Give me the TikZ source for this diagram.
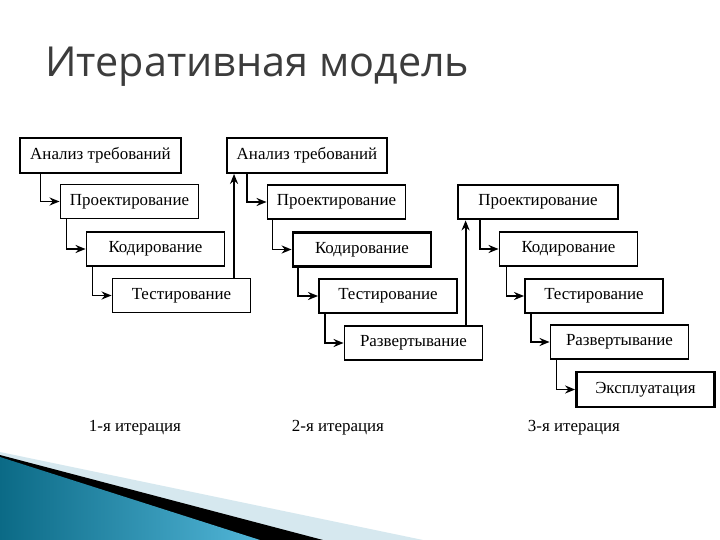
\documentclass[tikz,border=0pt]{standalone}
\usepackage{fontspec}
\setmainfont{Liberation Serif}
\newfontfamily\titlefont{Open Sans}
\usetikzlibrary{arrows.meta,calc}
\definecolor{titlegray}{HTML}{3C3C3C}
\definecolor{tealdark}{HTML}{0B6A86}
\definecolor{teallight}{HTML}{52B6D8}
\definecolor{bandlight}{HTML}{D6E8EF}
\tikzset{
  stagebox/.style={draw=black, line width=1.9bp, fill=white, minimum height=34bp,
    minimum width=138bp, inner sep=0pt, font=\fontsize{17}{19}\selectfont},
  widebox/.style={stagebox, minimum width=160bp},
  heavy/.style={line width=2.8bp},
  flow/.style={line width=1.8bp, -{Stealth[length=10bp,width=8bp]}},
  iterlabel/.style={font=\fontsize{17}{19}\selectfont}
}
\begin{document}
\begin{tikzpicture}[x=1bp,y=-1bp]
\useasboundingbox (0,0) rectangle (720,540);
\fill[white] (0,0) rectangle (720,540);
% bottom-left decoration
\fill[bandlight] (0,452) -- (423,540) -- (0,540) -- cycle;
\fill[black] (0,455) -- (323,540) -- (0,540) -- cycle;
\shade[left color=tealdark, right color=teallight] (0,457) -- (260,540) -- (0,540) -- cycle;
% title
\node[anchor=base west, inner sep=0pt, text=titlegray, font=\titlefont\fontsize{41.5}{46}\selectfont] (title) at (45,77) {Итеративная модель};
% iteration 1
\node[widebox, heavy, minimum width=161bp, minimum height=35bp] (a1) at (100.5,155.5) {Анализ требований};
\node[stagebox] (p1) at (129.5,201.5) {Проектирование};
\node[stagebox] (k1) at (155.5,249) {Кодирование};
\node[stagebox] (t1) at (181.5,295.5) {Тестирование};
% iteration 2
\node[widebox, minimum height=35bp] (a2) at (307,155.5) {Анализ требований};
\node[stagebox] (p2) at (336.5,202) {Проектирование};
\node[stagebox, heavy] (k2) at (362,249.5) {Кодирование};
\node[stagebox] (t2) at (388,296) {Тестирование};
\node[stagebox] (r2) at (413.5,343) {Развертывание};
% iteration 3
\node[widebox, heavy] (p3) at (538,202) {Проектирование};
\node[stagebox] (k3) at (568.5,249) {Кодирование};
\node[stagebox] (t3) at (594,296) {Тестирование};
\node[stagebox] (r3) at (619.5,342) {Развертывание};
\node[stagebox, heavy, minimum height=35bp] (e3) at (645.5,389.5) {Эксплуатация};
% connectors iteration 1
\draw[flow] ([xshift=22bp]a1.south west) |- (p1.west);
\draw[flow] ([xshift=7bp]p1.south west) |- (k1.west);
\draw[flow] ([xshift=7bp]k1.south west) |- (t1.west);
% feedback 1
\coordinate (fb1) at ([xshift=8bp]a2.south west);
\draw[flow] (t1.north -| fb1) -- (fb1);
% connectors iteration 2
\draw[flow] ([xshift=21bp]a2.south west) |- (p2.west);
\draw[flow] ([xshift=6bp]p2.south west) |- (k2.west);
\draw[flow] ([xshift=6bp]k2.south west) |- (t2.west);
\draw[flow] ([xshift=7bp]t2.south west) |- (r2.west);
% feedback 2
\coordinate (fb2) at ([xshift=9bp]p3.south west);
\draw[flow] (r2.north -| fb2) -- (fb2);
% connectors iteration 3
\draw[flow] ([xshift=23bp]p3.south west) |- (k3.west);
\draw[flow] ([xshift=8bp]k3.south west) |- (t3.west);
\draw[flow] ([xshift=7bp]t3.south west) |- (r3.west);
\draw[flow] ([xshift=7bp]r3.south west) |- (e3.west);
% iteration labels
\node[iterlabel] (l1) at (135,428) {1-я итерация};
\node[iterlabel] (l2) at (338,428) {2-я итерация};
\node[iterlabel] (l3) at (574,428) {3-я итерация};
\end{tikzpicture}
\end{document}
